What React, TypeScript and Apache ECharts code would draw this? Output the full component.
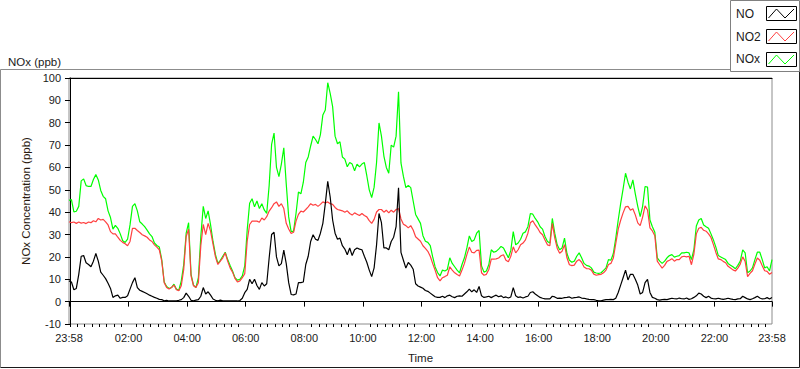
import React, { useEffect, useRef } from "react";
import * as echarts from "echarts";

// Sampling grid: one value every 5 minutes, starting 23:58 (= -2 min)
const STEP_MIN = 5;
const START_MIN = -2;
const END_MIN = 1438;

const noxValues = [
  45.3, 45.6, 40.1, 40.4, 42.6, 54, 54.9, 51.9, 51.5, 51.5,
  54.6, 56.8, 54.4, 49.7, 47.1, 46, 40.6, 37.6, 32.4, 34.1,
  32.8, 30.3, 27.2, 26.5, 27.9, 34.3, 42.6, 43.8, 40.6, 35.7,
  34.7, 33.5, 32, 30.3, 29.1, 26.2, 25.1, 24.4, 18.8, 8.8,
  6.8, 5.9, 6.3, 7.8, 5.6, 5.1, 9.3, 16.6, 30.6, 35.3,
  12.2, 7.4, 6.3, 10.7, 29.1, 42.6, 37.2, 40.6, 34.3, 26.9,
  21, 17.1, 18.5, 20.3, 22.1, 18.8, 16.2, 13.7, 10.7, 9.6,
  10, 11.5, 16, 32, 44, 46, 42.4, 45, 41.6, 43.8,
  41, 39.5, 51.9, 70.3, 75.4, 60, 55.9, 61.5, 68.8, 52.6,
  37.9, 31.3, 31.5, 39.4, 49, 48.2, 53.4, 62.2, 64.7, 69.6,
  74, 72.5, 70.6, 74.7, 83.5, 85.7, 97.9, 93.1, 87.2, 74,
  70.6, 71.5, 64.7, 63.7, 60.3, 62.2, 61.5, 58.5, 61.5, 60.3,
  61.5, 62.2, 56.3, 50, 46.5, 51.2, 62.2, 79.9, 74, 65.1,
  60, 57.4, 70, 69.1, 74, 93.8, 62, 56, 51, 52,
  51, 45, 39, 37, 35, 29.5, 27, 26.5, 25, 20,
  15.5, 13, 11.5, 14.1, 13.7, 14.4, 19.6, 17.1, 15.6, 14.1,
  12.9, 16.6, 19.6, 24, 29.4, 26.9, 27.6, 30.6, 31.8, 15.9,
  13.2, 13.7, 16.6, 23.2, 22.1, 22.5, 23.5, 24.7, 24, 21.8,
  19.6, 22.9, 31.3, 25.4, 26.2, 27.9, 30.6, 31.2, 33.5, 39.4,
  39.1, 37.2, 35.7, 33.5, 32.4, 29.1, 26.9, 26.2, 37.2, 30.6,
  25.4, 23.2, 24, 28.4, 21.5, 18.5, 17.6, 18.1, 20.3, 21.8,
  19.6, 17.1, 16.2, 15.9, 15.1, 13.2, 12.8, 12.6, 12.9, 14,
  15.1, 18.8, 18.5, 21.5, 28.4, 36.5, 43.8, 50.4, 57.4, 53.4,
  50.4, 54.4, 48.2, 42.6, 38, 42.6, 51.5, 51.2, 36.5, 33.5,
  31, 19.6, 18.1, 17.1, 18.1, 19.6, 20.6, 21, 19.9, 20.3,
  20.6, 21.8, 21.8, 22.1, 21.8, 18.8, 23.2, 33.8, 36.5, 37.2,
  34.3, 33.5, 32.8, 30.3, 27.6, 24.4, 20.6, 20, 19.4, 18.8,
  17.1, 16.3, 15.6, 14.7, 16.2, 18.1, 23.2, 21.8, 12.9, 13.7,
  15.1, 18.8, 22.1, 22.1, 18.8, 15.1, 15.6, 13.7, 18.8,
];

const no2Values = [
  35.7, 35.3, 35.6, 35, 35.6, 35.1, 35.4, 34.9, 35.6, 35.3,
  36.2, 35.7, 37.2, 36.5, 36.8, 35.7, 34.3, 31.3, 30.3, 30.3,
  28.8, 27.4, 26.5, 25.9, 25, 26.9, 32.8, 32.8, 31.8, 30.9,
  29.9, 29.4, 28.8, 27.6, 26.9, 25.4, 24.4, 23.2, 18.1, 8.5,
  6.3, 5.6, 6.3, 7.4, 5.3, 4.9, 7.1, 14.4, 29.1, 32.4,
  11.5, 7.1, 6.3, 8.5, 25, 34.5, 30, 35, 31.5, 25.7,
  20, 16.6, 18.1, 19.6, 21.8, 18.1, 15.1, 13.2, 10.4, 8.8,
  9.3, 10.7, 12.5, 27, 34.5, 36, 36, 36, 35.5, 37.4,
  36.5, 38, 40.5, 42, 43.8, 44.6, 42.6, 43.8, 41.6, 35,
  32.5, 30.5, 31, 36, 39, 40.5, 40.1, 41.2, 42.4, 43.8,
  43.1, 43.5, 42.6, 43.5, 44.6, 44.1, 44.6, 43.8, 43.5, 42.1,
  41.2, 40.9, 40.6, 40, 40.6, 39.4, 38.7, 39.7, 39.1, 38.5,
  39.4, 38.5, 37.9, 36.2, 35, 36.8, 40.1, 41.2, 41.2, 40,
  40.9, 39.7, 40.9, 40, 41.2, 41.6, 37, 34.6, 34, 33,
  34, 32, 29, 28, 27, 25, 23.8, 22.5, 20.3, 17,
  14, 10.7, 9.3, 10.7, 11.2, 11.8, 15.6, 14.1, 12.9, 12.1,
  11.5, 14.1, 17.1, 21, 24.4, 22.1, 21.8, 22.9, 23, 12.9,
  11.8, 12.2, 14.4, 19, 19, 19.1, 19.5, 20.5, 21, 18.5,
  17.8, 20.3, 24.5, 21.8, 23.2, 25.4, 26.2, 27.6, 30.6, 35.3,
  36.2, 34.3, 32.8, 30.9, 29.9, 27.6, 25.4, 25, 35, 28.5,
  23.9, 21.6, 22.5, 25.5, 19.6, 16.5, 16.1, 16.3, 18.1, 18.8,
  17.6, 15.5, 14.8, 14.7, 14.1, 12.3, 11.8, 12.1, 12.2, 12.9,
  14.1, 16.6, 17.1, 19.5, 26, 32.4, 36.4, 39.7, 42.4, 42.6,
  40.9, 41.5, 38.8, 35.2, 34, 37.8, 42.8, 41, 33, 31.6,
  29.5, 18.1, 16.5, 15, 16.2, 18, 18.5, 19.2, 18.1, 18.8,
  18.8, 20, 20.3, 20, 20.3, 16.5, 21.3, 30.3, 32.8, 33.2,
  31.9, 31.5, 30.3, 28.7, 25.5, 22, 19.1, 18.8, 18, 17.4,
  15.8, 15, 14.2, 13.7, 15, 16.8, 20, 18, 11.2, 12.6,
  13.8, 16.8, 19.5, 18.5, 16, 13.8, 13.5, 12.2, 13,
];

const noValues = [
  9.3, 8.8, 5.3, 5.9, 12.2, 20.3, 20.6, 17.4, 16.6, 15.6,
  18.1, 21.5, 18.1, 13.2, 11.8, 10.3, 8.2, 5.9, 1.9, 2.6,
  2.9, 1.5, 1.9, 1.9, 2.6, 5.6, 8.5, 10.7, 6.3, 5.1,
  4.6, 4.1, 3.5, 2.9, 2.4, 1.9, 1.5, 1, 0.9, 0.4,
  0.6, 0.3, 0.3, 0.4, 0.4, 0.6, 0.9, 1.8, 3.8, 2.4,
  0.6, 0.4, 0.7, 0.9, 2.4, 6.3, 3.4, 4.4, 2.9, 1.2,
  0.6, 0.4, 0.7, 0.4, 0.4, 0.3, 0.3, 0.3, 0.3, 0.3,
  0.5, 1.5, 4, 5.5, 10, 8, 10, 7.2, 5.5, 8.5,
  7, 8, 19.5, 30, 31, 20, 16, 17, 23, 17,
  8.5, 3.2, 3, 3.4, 8.5, 8.5, 8.8, 16.6, 20.3, 26.9,
  29.9, 27.9, 27.4, 30.6, 35, 43.8, 53.8, 46.8, 36.5, 30.6,
  27.9, 28.4, 25, 23.5, 21, 24, 20.6, 23.2, 24, 23.5,
  23.2, 20.3, 17.6, 14.1, 11.2, 15.1, 25.4, 39.4, 35.3, 24,
  24, 23.2, 26.9, 28.8, 33.5, 50.9, 22, 18.5, 15, 17.5,
  16.3, 14.5, 8, 7, 6.5, 6, 5, 4.6, 3.8, 3,
  2.2, 1.9, 1.9, 2.4, 1.8, 2.6, 2.9, 2.2, 1.8, 2.4,
  2.6, 2.4, 3.4, 4.4, 5.6, 4.4, 5.3, 4.1, 6.8, 2.6,
  1.9, 2.1, 2.4, 1.8, 2.4, 2.9, 2.2, 2.6, 1.8, 2.1,
  1.6, 2.1, 6.3, 2.6, 1.9, 2.1, 1.6, 2.1, 2.4, 4.1,
  4.4, 3.4, 2.6, 1.9, 1.5, 1.2, 1.3, 1.2, 2.4, 2.1,
  1.5, 1.6, 1.5, 1.8, 1.9, 2.1, 1.5, 1.8, 1.9, 2.1,
  1.6, 1.5, 1.2, 1, 0.9, 0.9, 0.6, 0.4, 0.4, 0.7,
  0.9, 0.9, 1, 0.9, 1.5, 4.1, 7.4, 10.7, 14.1, 9.7,
  12.2, 12.2, 10, 7.4, 3.4, 4.1, 8.5, 10, 4.1, 1.9,
  1.5, 0.9, 0.7, 0.9, 1, 0.9, 1.2, 1.5, 1.3, 1.2,
  1.6, 1.3, 1.2, 1.6, 1, 1.3, 1.9, 2.6, 3.8, 3.4,
  2.4, 1.8, 2.4, 1.6, 1.3, 1.2, 1.5, 1.2, 1, 1.2,
  1.5, 1.2, 1, 0.9, 1.2, 1.3, 2.4, 1.8, 1.2, 0.9,
  1.3, 1.8, 2.4, 1.6, 1.2, 1.3, 1.8, 1.2, 1.9,
];

// Major ticks (minutes relative to midnight) and their labels
const majorTickMinutes = [-2, 120, 240, 360, 480, 600, 720, 840, 960, 1080, 1200, 1320, 1438];
const tickLabels = ["23:58", "02:00", "04:00", "06:00", "08:00", "10:00", "12:00", "14:00", "16:00", "18:00", "20:00", "22:00", "23:58"];
const MINOR_STEP_MIN = 15;

const yTickMin = -10;
const yTickMax = 100;
const yTickStep = 10;

const seriesNames = ["NO", "NO2", "NOx"];
const seriesColors = ["#000000", "#ff4040", "#00ff00"];

const FONT = "Liberation Sans";
const TXT = "#1a1a1a";

function toPairs(values: number[]) {
  return values.map((v, i) => [START_MIN + i * STEP_MIN, v]);
}

function minorTicks() {
  const out: number[] = [];
  for (let m = 0; m <= 1425; m += MINOR_STEP_MIN) {
    if (majorTickMinutes.indexOf(m) === -1) out.push(m);
  }
  return out;
}

function legendGraphics() {
  const els: any[] = [];
  els.push({
    type: "rect",
    shape: { x: 730.5, y: 0.5, width: 69, height: 71 },
    style: { fill: "#ffffff", stroke: "#808080", lineWidth: 1 },
    silent: true,
  });
  const rowsY = [14, 37, 59];
  const boxY = [6.5, 29.5, 52.5];
  seriesNames.forEach((name, i) => {
    els.push({
      type: "text",
      x: 736,
      y: rowsY[i],
      style: { text: name, fontFamily: FONT, fontSize: 12, fill: TXT, verticalAlign: "middle", align: "left" },
      silent: true,
    });
    els.push({
      type: "rect",
      shape: { x: 766.5, y: boxY[i], width: 30, height: 14 },
      style: { fill: "#ffffff", stroke: "#000000", lineWidth: 1 },
      silent: true,
    });
    const bx = 766.5;
    const by = boxY[i];
    els.push({
      type: "polyline",
      shape: {
        points: [
          [bx + 2, by + 11.5],
          [bx + 10, by + 2.5],
          [bx + 18.5, by + 11.5],
          [bx + 27.5, by + 2.5],
        ],
      },
      style: { stroke: seriesColors[i], lineWidth: 1, fill: null },
      silent: true,
    });
  });
  return els;
}

export default function App() {
  const ref = useRef<HTMLDivElement>(null);

  useEffect(() => {
    if (!ref.current) return;
    const chart = echarts.init(ref.current, null, { renderer: "svg" });

    const option: any = {
      animation: false,
      backgroundColor: "#ffffff",
      textStyle: { fontFamily: FONT },
      title: {
        text: "NOx (ppb)",
        left: 3,
        top: 51,
        textStyle: { fontFamily: FONT, fontSize: 11.5, fontWeight: "normal", color: TXT },
      },
      grid: {
        left: 69,
        right: 28,
        top: 78,
        bottom: 39,
        show: true,
        borderColor: "#8c8c8c",
        borderWidth: 1,
        backgroundColor: "#ffffff",
      },
      xAxis: [
        {
          type: "value",
          min: START_MIN,
          max: END_MIN,
          position: "bottom",
          name: "Time",
          nameLocation: "middle",
          nameGap: 28,
          nameTextStyle: { fontFamily: FONT, fontSize: 11.5, color: TXT },
          axisLine: { show: true, lineStyle: { color: "#000000", width: 1 } },
          axisTick: {
            show: true,
            customValues: majorTickMinutes,
            length: 5,
            lineStyle: { color: "#000000", width: 1 },
          },
          axisLabel: {
            show: true,
            customValues: majorTickMinutes,
            formatter: (v: number) => {
              const idx = majorTickMinutes.indexOf(v);
              return idx >= 0 ? tickLabels[idx] : "";
            },
            margin: 8,
            fontFamily: FONT,
            fontSize: 11,
            color: TXT,
          },
          splitLine: { show: false },
        },
        {
          type: "value",
          min: START_MIN,
          max: END_MIN,
          position: "bottom",
          offset: 0,
          axisLine: { show: false },
          axisTick: {
            show: true,
            customValues: minorTicks(),
            length: 3,
            lineStyle: { color: "#000000", width: 1 },
          },
          axisLabel: { show: false },
          splitLine: { show: false },
        },
        {
          type: "value",
          min: START_MIN,
          max: END_MIN,
          position: "top",
          axisLine: { show: true, lineStyle: { color: "#000000", width: 1 } },
          axisTick: { show: false },
          axisLabel: { show: false },
          splitLine: { show: false },
        },
      ],
      yAxis: {
        type: "value",
        min: yTickMin,
        max: yTickMax,
        interval: yTickStep,
        name: "NOx Concentration (ppb)",
        nameLocation: "middle",
        nameRotate: 90,
        nameGap: 27,
        nameTextStyle: { fontFamily: FONT, fontSize: 11.5, color: "#2a1a10" },
        axisLine: { show: true, lineStyle: { color: "#000000", width: 1 } },
        axisTick: { show: true, length: 5, lineStyle: { color: "#000000", width: 1 } },
        axisLabel: { margin: 8, fontFamily: FONT, fontSize: 11, color: TXT },
        splitLine: { show: false },
      },
      series: [
        {
          name: "NOx",
          type: "line",
          xAxisIndex: 0,
          data: toPairs(noxValues),
          showSymbol: false,
          symbol: "none",
          lineStyle: { color: seriesColors[2], width: 1.2 },
          itemStyle: { color: seriesColors[2] },
          silent: true,
          z: 2,
        },
        {
          name: "NO2",
          type: "line",
          xAxisIndex: 0,
          data: toPairs(no2Values),
          showSymbol: false,
          symbol: "none",
          lineStyle: { color: seriesColors[1], width: 1.2 },
          itemStyle: { color: seriesColors[1] },
          silent: true,
          z: 3,
        },
        {
          name: "NO",
          type: "line",
          xAxisIndex: 0,
          data: toPairs(noValues),
          showSymbol: false,
          symbol: "none",
          lineStyle: { color: seriesColors[0], width: 1.2 },
          itemStyle: { color: seriesColors[0] },
          silent: true,
          z: 4,
        },
      ],
      graphic: [
        {
          type: "polyline",
          shape: { points: [[0.5, 367.5], [0.5, 69.5], [730.5, 69.5]] },
          style: { stroke: "#8c8c8c", lineWidth: 1, fill: null },
          silent: true,
        },
        {
          type: "polyline",
          shape: { points: [[799.5, 71], [799.5, 367.5], [0.5, 367.5]] },
          style: { stroke: "#1a1a1a", lineWidth: 1, fill: null },
          silent: true,
        },
        ...legendGraphics(),
      ],
    };

    chart.setOption(option);
    return () => {
      chart.dispose();
    };
  }, []);

  return (
    <div
      ref={ref}
      style={{ position: "fixed", left: 0, top: 0, width: 800, height: 369, background: "#ffffff" }}
    />
  );
}
